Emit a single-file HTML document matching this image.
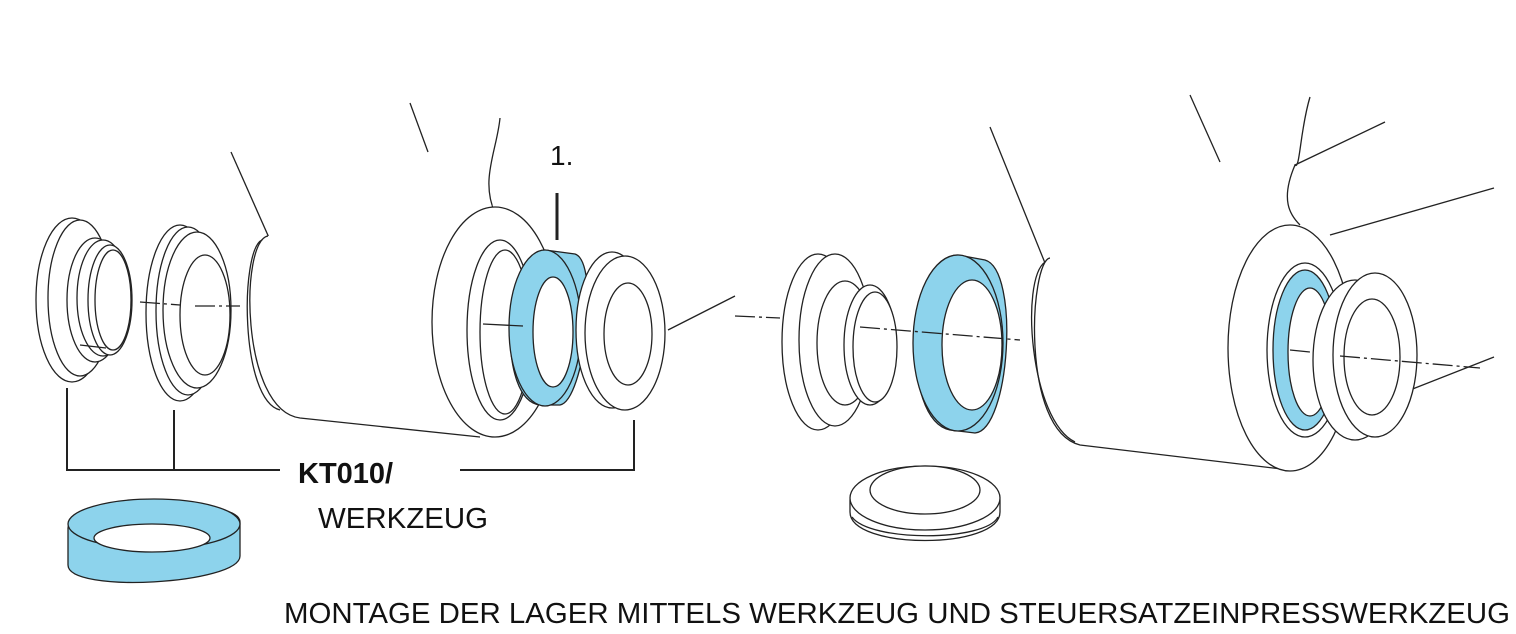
<!DOCTYPE html>
<html><head><meta charset="utf-8"><style>
html,body{margin:0;padding:0;background:#fff;}
svg{display:block}
text{font-family:"Liberation Sans",sans-serif;fill:#111}
</style></head><body>
<svg width="1516" height="634" viewBox="0 0 1516 634" xmlns="http://www.w3.org/2000/svg">
<g fill="#fff" stroke="#222" stroke-width="1.3">
<!-- frame lines left -->
<path d="M410 103 L428 152" fill="none"/>
<path d="M231 152 L290 285" fill="none"/>
<path d="M500 118 C497 150 480 180 495 213" fill="none"/>
<path d="M668 330 L735 296" fill="none"/>
<!-- tube 1 -->
<path d="M495 205 C440 205 420 440 480 437 L300 418 C240 410 240 240 268 236 Z" stroke="none"/>
<path d="M268 236 C240 240 240 410 300 418 L480 437" fill="none"/>
<path d="M262 240 C240 250 240 400 280 410" fill="none"/>
<ellipse cx="495" cy="322" rx="63" ry="115"/>
<ellipse cx="500" cy="330" rx="33" ry="90"/>
<ellipse cx="505" cy="332" rx="25" ry="82"/>
<!-- part A -->
<ellipse cx="72" cy="300" rx="36" ry="82"/>
<ellipse cx="80" cy="298" rx="32" ry="78"/>
<ellipse cx="95" cy="300" rx="28" ry="62"/>
<ellipse cx="103" cy="298" rx="26" ry="58"/>
<ellipse cx="110" cy="300" rx="22" ry="55"/>
<ellipse cx="113" cy="300" rx="18" ry="50"/>
<path d="M80 345 L106 348" fill="none"/>
<!-- part B -->
<ellipse cx="180" cy="313" rx="34" ry="88"/>
<ellipse cx="188" cy="311" rx="32" ry="84"/>
<ellipse cx="197" cy="310" rx="34" ry="78"/>
<ellipse cx="205" cy="315" rx="25" ry="60"/>
<path d="M140 302 L180 305 M195 306 L240 306" fill="none" stroke-dasharray="20 4 3 4"/>
<!-- blue ring 1 -->
<path d="M545 250 L575 254 C600 262 585 400 560 405 L540 405 C495 400 505 250 545 250 Z" fill="#8dd3ec"/>
<ellipse cx="545" cy="328" rx="36" ry="78" fill="#8dd3ec"/>
<ellipse cx="553" cy="332" rx="20" ry="55"/>
<path d="M483 324 L523 326" fill="none"/>
<!-- cup 1 -->
<ellipse cx="612" cy="330" rx="36" ry="78"/>
<ellipse cx="625" cy="333" rx="40" ry="77"/>
<ellipse cx="628" cy="334" rx="24" ry="51"/>
<!-- leader & bracket -->
<path d="M557 193 L557 240" stroke-width="3" fill="none"/>
<path d="M67 388 L67 470 L280 470 M174 410 L174 470 M460 470 L634 470 L634 420" fill="none" stroke-width="2"/>
<!-- bottom left blue ring -->
<path d="M68 528 C68 500 240 495 240 522 L240 556 C240 584 68 594 68 565 Z" fill="#8dd3ec"/>
<ellipse cx="154" cy="524" rx="86" ry="25" fill="#8dd3ec"/>
<ellipse cx="152" cy="538" rx="58" ry="14"/>
<!-- right frame lines -->
<path d="M1190 95 L1220 162" fill="none"/>
<path d="M990 127 L1062 305" fill="none"/>
<path d="M1310 97 C1300 130 1300 170 1295 165 L1385 122 M1295 165 C1280 200 1290 215 1300 225" fill="none"/>
<path d="M1330 235 L1494 188" fill="none"/>
<path d="M1410 390 L1494 357" fill="none"/>
<path d="M735 316 L780 318" fill="none" stroke-dasharray="20 4 3 4"/>
<!-- tube 2 -->
<path d="M1290 226 C1230 226 1220 470 1290 470 L1080 445 C1020 430 1030 260 1050 258 Z" stroke="none"/>
<path d="M1050 258 C1030 260 1020 430 1080 445 L1290 470" fill="none"/>
<path d="M1045 262 C1020 280 1030 420 1075 442" fill="none"/>
<ellipse cx="1290" cy="348" rx="62" ry="123"/>
<ellipse cx="1305" cy="350" rx="38" ry="87"/>
<ellipse cx="1305" cy="350" rx="32" ry="80" fill="#8dd3ec"/>
<ellipse cx="1310" cy="352" rx="22" ry="64"/>
<!-- cup 2 -->
<ellipse cx="1355" cy="360" rx="42" ry="80"/>
<ellipse cx="1375" cy="355" rx="42" ry="82"/>
<ellipse cx="1372" cy="357" rx="28" ry="58"/>
<path d="M1290 350 L1310 352 M1340 356 L1480 368" fill="none" stroke-dasharray="20 4 3 4"/>
<!-- part C -->
<ellipse cx="818" cy="342" rx="36" ry="88"/>
<ellipse cx="835" cy="340" rx="36" ry="86"/>
<ellipse cx="845" cy="343" rx="28" ry="62"/>
<ellipse cx="870" cy="345" rx="26" ry="60"/>
<ellipse cx="875" cy="347" rx="22" ry="55"/>
<!-- blue ring 2 -->
<path d="M958 255 L985 260 C1020 270 1010 430 975 433 L950 430 C900 420 905 255 958 255 Z" fill="#8dd3ec"/>
<ellipse cx="958" cy="343" rx="45" ry="88" fill="#8dd3ec"/>
<ellipse cx="972" cy="345" rx="30" ry="65"/>
<path d="M860 327 L1020 340" fill="none" stroke-dasharray="20 4 3 4"/>
<!-- bottom ring 2 -->
<path d="M850 500 C850 460 1000 460 1000 500 L1000 512 C1000 550 850 550 850 512 Z"/>
<ellipse cx="925" cy="498" rx="75" ry="32"/>
<ellipse cx="925" cy="490" rx="55" ry="24"/>
<path d="M852 517 C870 542 985 542 998 517" fill="none"/>
</g>
<text x="550" y="165" font-size="28">1.</text>
<text x="298" y="483" font-size="29" font-weight="bold">KT010/</text>
<text x="318" y="528" font-size="29" textLength="170" lengthAdjust="spacingAndGlyphs">WERKZEUG</text>
<text x="284" y="623" font-size="29" textLength="1226" lengthAdjust="spacingAndGlyphs">MONTAGE DER LAGER MITTELS WERKZEUG UND STEUERSATZEINPRESSWERKZEUG</text>
</svg>
</body></html>
